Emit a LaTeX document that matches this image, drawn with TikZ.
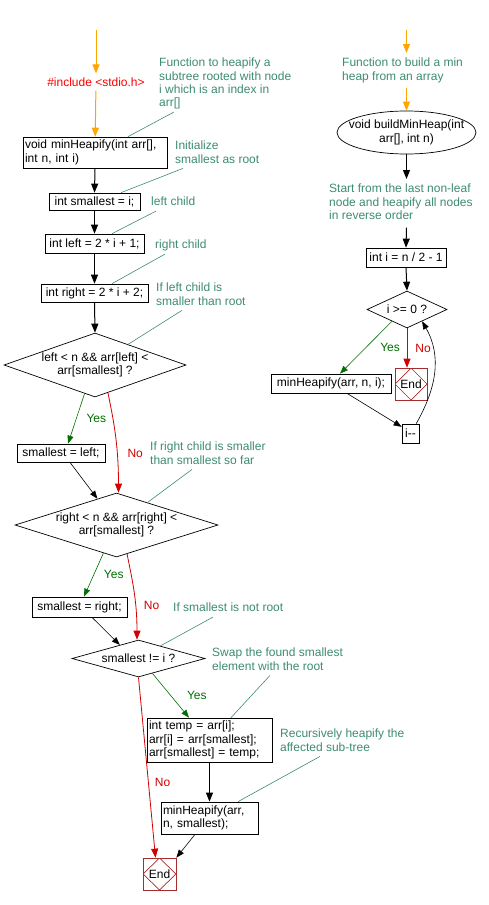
\documentclass[tikz,border=0pt]{standalone}
\usepackage{fontspec}
\setmainfont{Liberation Sans}
\usepackage{xcolor}
\usetikzlibrary{positioning,shapes.geometric,arrows.meta}

\definecolor{notegreen}{RGB}{60,140,110}
\definecolor{yesgreen}{RGB}{0,110,0}
\definecolor{nored}{RGB}{210,0,0}
\definecolor{endred}{RGB}{165,45,45}
\definecolor{startorange}{RGB}{255,165,0}

\begin{document}
\begin{tikzpicture}[x=1pt, y=-1pt, font=\fontsize{12}{13.3}\selectfont,
  box/.style={draw, line width=0.7pt, inner sep=2pt},
  cond/.style={draw, diamond, line width=0.7pt, inner sep=0pt, align=center},
  note/.style={text=notegreen, align=left, inner sep=0pt, text depth=3pt, anchor=north west},
  endbox/.style={draw=endred, line width=0.7pt, minimum width=33pt, minimum height=32pt, inner sep=0pt,
    path picture={\draw[endred, line width=0.7pt] (path picture bounding box.north) -- (path picture bounding box.east)
      -- (path picture bounding box.south) -- (path picture bounding box.west) -- cycle;}},
  arr/.style={-{Triangle[length=9pt,width=7pt]}, line width=1pt},
  thin/.style={-{Triangle[length=8pt,width=6pt]}, line width=0.6pt},
  link/.style={notegreen, line width=0.6pt},
  lab/.style={inner sep=0pt, anchor=west}]
  \useasboundingbox (0,0) rectangle (488,905);

  % minHeapify
  \coordinate (top1) at (96,30);
  \node[text=red, inner sep=4pt] (inc) at (96,82) {\#include <stdio.h>};
  \node[box, align=left, text width=140pt, minimum height=31pt] (mhp) at (95,152.5) {void minHeapify(int arr[],\\int n, int i)};
  \node[box, minimum width=91pt, minimum height=17pt] (sml) at (94.5,201.5) {int smallest = i;};
  \node[box, minimum width=99pt, minimum height=19pt] (lft) at (94.5,243.5) {int left = 2 * i + 1;};
  \node[box, minimum width=107pt, minimum height=18pt] (rgt) at (94.5,293) {int right = 2 * i + 2;};
  \node[cond, minimum width=182pt, minimum height=64pt, aspect=2.84] (dl) at (95,365) {left < n \&\& arr[left] <\\arr[smallest] ?};
  \node[box, minimum width=88pt, minimum height=18pt] (sl) at (61,453) {smallest = left;};
  \node[cond, minimum width=203pt, minimum height=64pt, aspect=3.17] (dr) at (116.5,525) {right < n \&\& arr[right] <\\arr[smallest] ?};
  \node[box, minimum width=95pt, minimum height=20pt] (sr) at (79.5,607) {smallest = right;};
  \node[cond, minimum width=133pt, minimum height=37pt, aspect=3.6] (dn) at (138.5,658.5) {smallest != i ?};
  \node[box, align=left, text width=121pt, minimum height=44pt] (swp) at (209.5,740) {int temp = arr[i];\\arr[i] = arr[smallest];\\arr[smallest] = temp;};
  \node[box, align=left, text width=93pt, minimum height=32pt] (rec) at (209.5,818) {minHeapify(arr,\\n, smallest);};
  \node[endbox] (end1) at (159.5,874) {End};

  % comments on the left
  \node[note] (cm1) at (159,58) {Function to heapify a\\subtree rooted with node\\i which is an index in\\arr[]};
  \node[note] (cm2) at (175,141) {Initialize\\smallest as root};
  \node[note] (cm3) at (151,197) {left child};
  \node[note] (cm4) at (155,240) {right child};
  \node[note] (cm5) at (156,283) {If left child is\\smaller than root};
  \node[note] (cm6) at (150,442) {If right child is smaller\\than smallest so far};
  \node[note] (cm7) at (173,603) {If smallest is not root};
  \node[note] (cm8) at (212,648) {Swap the found smallest\\element with the root};
  \node[note] (cm9) at (280,729) {Recursively heapify the\\affected sub-tree};

  % buildMinHeap
  \coordinate (top2) at (406.5,30);
  \node[note, inner ysep=5pt] (cmb) at (342,53) {Function to build a min\\heap from an array};
  \node[draw, ellipse, line width=0.7pt, align=center, inner xsep=-10pt, inner ysep=2pt,
    minimum width=139pt, minimum height=43pt] (bmh) at (406.5,132.5) {void buildMinHeap(int\\arr[], int n)};
  \node[note, inner ysep=5pt] (cms) at (329,179) {Start from the last non-leaf\\node and heapify all nodes\\in reverse order};
  \node[box, minimum width=80pt, minimum height=19pt] (ini) at (406,257.5) {int i = n / 2 - 1};
  \node[cond, minimum width=80pt, minimum height=37pt, aspect=2.16] (dg) at (407,309.5) {i >= 0 ?};
  \node[box, minimum width=120pt, minimum height=19pt] (mhc) at (331,383.5) {minHeapify(arr, n, i);};
  \node[endbox, minimum width=32pt] (end2) at (411,384) {End};
  \node[box, minimum width=17pt, minimum height=19pt, inner sep=1pt] (dec) at (410.5,433.5) {i-{}-};

  % straight flow
  \draw[arr, startorange] (top1) -- (inc);
  \draw[arr, startorange] (inc) -- (mhp);
  \foreach \a/\b in {mhp/sml, sml/lft, lft/rgt, rgt/dl, swp/rec, ini/dg}
    \draw[arr] (\a.south) -- (\b.north);
  \draw[arr, startorange] (top2) -- (cmb.north -| bmh);
  \draw[arr, startorange] (cmb.south -| bmh) -- (bmh.north);
  \draw[arr] (bmh.south) -- (cms.north -| bmh);
  \draw[arr] (cms.south -| bmh) -- (ini.north);

  % branches
  \draw[thin, yesgreen] (dl.250) -- ([xshift=7pt]sl.north) node[lab, midway, right=10pt] {Yes};
  \draw[arr, nored, line width=0.8pt] (dl.295) .. controls +(5,25) and +(0,-50) .. ([xshift=2pt]dr.north)
    node[lab, pos=0.7, right=10pt] {No};
  \draw[thin] ([xshift=9pt]sl.south) -- (dr.126);
  \draw[thin, yesgreen] (dr.245) -- ([xshift=4.5pt]sr.north) node[lab, midway, right=10pt] {Yes};
  \draw[arr, nored, line width=0.8pt] (dr.290) .. controls +(5,25) and +(0,-40) .. ([xshift=-1.5pt]dn.north)
    node[lab, pos=0.67, right=8pt] {No};
  \draw[thin] ([xshift=12.5pt]sr.south) -- (dn.144);
  \draw[thin, yesgreen] (dn.313) -- ([xshift=-20.5pt]swp.north) node[lab, midway, right=16pt] {Yes};
  \draw[arr, nored, line width=0.8pt] (dn.south) -- ([xshift=-4pt]end1.north) node[lab, pos=0.585, right=6pt] {No};
  \draw[thin] ([xshift=-14.5pt]rec.south) -- (end1.north east);

  \draw[thin, yesgreen] (dg.218) -- ([xshift=9pt]mhc.north) node[lab, midway, right=14pt] {Yes};
  \draw[arr, nored, line width=0.8pt] (dg.south) -- (dg.south |- end2.north) node[lab, midway, right=8pt] {No};
  \draw[thin] ([xshift=16pt]mhc.south) -- (dec.143);
  \draw[thin] (dec.60) .. controls +(20,-35) and +(20,35) .. (dg.322);

  % comment links
  \foreach \cm/\sx/\tgt/\tx in {cm1/15/mhp.north/33, cm2/8/sml.north/26.5, cm3/5/lft.north/17.5,
      cm4/10/rgt.north/17.5, cm5/26/dl.32/0, cm6/42/dr.36/0, cm7/40/dn.30/0,
      cm8/58/swp.north/21.5, cm9/40/rec.north/28.5}
    \draw[link] ([xshift=\sx pt, yshift=-2pt]\cm.south west) -- ([xshift=\tx pt]\tgt);
\end{tikzpicture}
\end{document}
